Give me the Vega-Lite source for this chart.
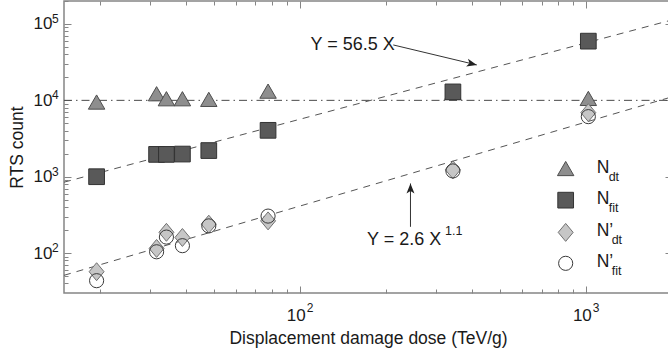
{
  "$schema": "https://vega.github.io/schema/vega-lite/v6.json",
  "width": 608,
  "height": 292,
  "autosize": {"type": "none"},
  "padding": {"left": 64, "top": 1, "right": 0, "bottom": 67},
  "background": "white",
  "config": {
    "font": "Liberation Sans",
    "view": {"stroke": "#858585", "strokeWidth": 1.5},
    "axis": {
      "domain": false,
      "grid": false,
      "tickColor": "#858585",
      "tickWidth": 1,
      "labelFont": "Liberation Sans",
      "labelFontSize": 17,
      "labelColor": "#1a1a1a",
      "labelOverlap": false,
      "labelFlush": false,
      "titleFont": "Liberation Sans",
      "titleFontSize": 17.5,
      "titleFontWeight": "normal",
      "titleColor": "#1a1a1a"
    }
  },
  "datasets": {
    "pts": [
      {"series": "Ndt", "dose": 19.5, "count": 9500},
      {"series": "Ndt", "dose": 31.6, "count": 12200},
      {"series": "Ndt", "dose": 34.2, "count": 10500},
      {"series": "Ndt", "dose": 38.9, "count": 10500},
      {"series": "Ndt", "dose": 48.1, "count": 10300},
      {"series": "Ndt", "dose": 77.5, "count": 13200},
      {"series": "Ndt", "dose": 343, "count": 12700},
      {"series": "Ndt", "dose": 1020, "count": 10600},
      {"series": "Nfit", "dose": 19.5, "count": 1000},
      {"series": "Nfit", "dose": 31.6, "count": 1960},
      {"series": "Nfit", "dose": 34.2, "count": 1960},
      {"series": "Nfit", "dose": 38.9, "count": 1980},
      {"series": "Nfit", "dose": 48.1, "count": 2200},
      {"series": "Nfit", "dose": 77.5, "count": 4050},
      {"series": "Nfit", "dose": 343, "count": 12900},
      {"series": "Nfit", "dose": 1020, "count": 59600},
      {"series": "N'dt", "dose": 19.5, "count": 57},
      {"series": "N'dt", "dose": 31.6, "count": 115},
      {"series": "N'dt", "dose": 34.2, "count": 187},
      {"series": "N'dt", "dose": 38.9, "count": 160},
      {"series": "N'dt", "dose": 48.1, "count": 239},
      {"series": "N'dt", "dose": 77.5, "count": 264},
      {"series": "N'dt", "dose": 343, "count": 1230},
      {"series": "N'dt", "dose": 1020, "count": 6900},
      {"series": "N'fit", "dose": 19.5, "count": 43.5},
      {"series": "N'fit", "dose": 31.6, "count": 104},
      {"series": "N'fit", "dose": 34.2, "count": 162},
      {"series": "N'fit", "dose": 38.9, "count": 125},
      {"series": "N'fit", "dose": 48.1, "count": 227},
      {"series": "N'fit", "dose": 77.5, "count": 305},
      {"series": "N'fit", "dose": 343, "count": 1190},
      {"series": "N'fit", "dose": 1020, "count": 6120}
    ],
    "level": [
      {"dose": 15, "count": 10000},
      {"dose": 2000, "count": 10000}
    ],
    "fitLinear": [
      {"dose": 15, "count": 847.5},
      {"dose": 2000, "count": 113000}
    ],
    "fitPower": [
      {"dose": 15, "count": 51.13},
      {"dose": 2000, "count": 11120}
    ],
    "decadesX": [
      {"dose": 100, "count": 30, "exp": "2"},
      {"dose": 1000, "count": 30, "exp": "3"}
    ],
    "decadesY": [
      {"dose": 15, "count": 100, "exp": "2"},
      {"dose": 15, "count": 1000, "exp": "3"},
      {"dose": 15, "count": 10000, "exp": "4"},
      {"dose": 15, "count": 100000, "exp": "5"}
    ],
    "key": [
      {"series": "Ndt", "main": "N", "sub": "dt", "prime": false, "dose": 850, "count": 1280},
      {"series": "Nfit", "main": "N", "sub": "fit", "prime": false, "dose": 850, "count": 493},
      {"series": "N'dt", "main": "N’", "sub": "dt", "prime": true, "dose": 850, "count": 186.5},
      {"series": "N'fit", "main": "N’", "sub": "fit", "prime": true, "dose": 850, "count": 73.4}
    ],
    "notes": [
      {"label": "Y = 56.5 X", "dose": 109, "count": 52360},
      {"label": "Y = 2.6 X", "dose": 171.9, "count": 147.9}
    ],
    "exponent": [
      {"label": "1.1", "dose": 322, "count": 193.9}
    ],
    "arrowLinear": [
      {"dose": 212.3, "count": 53160, "dose2": 415.7, "count2": 29100}
    ],
    "arrowPower": [
      {"dose": 243.8, "count": 220.7, "dose2": 243.8, "count2": 814.6}
    ]
  },
  "layer": [
    {
      "data": {"name": "level"},
      "mark": {"type": "line", "color": "#4a4a4a", "strokeWidth": 1, "strokeDash": [8, 4, 1.5, 4]},
      "encoding": {
        "x": {
          "field": "dose", "type": "quantitative",
          "scale": {"type": "log", "domain": [15, 2000], "nice": false},
          "axis": {
            "orient": "bottom",
            "title": "Displacement damage dose (TeV/g)",
            "titlePadding": 6,
            "ticks": false,
            "values": [100, 1000],
            "labelExpr": "'10'",
            "labelPadding": 14,
            "labelOffset": -4
          }
        },
        "y": {
          "field": "count", "type": "quantitative",
          "scale": {"type": "log", "domain": [30, 200000], "nice": false},
          "axis": {
            "orient": "left",
            "title": "RTS count",
            "titlePadding": 7,
            "ticks": false,
            "values": [100, 1000, 10000, 100000],
            "labelExpr": "'10'",
            "labelPadding": 12
          }
        }
      }
    },
    {
      "data": {"name": "fitLinear"},
      "mark": {"type": "line", "color": "#555555", "strokeWidth": 1, "strokeDash": [7, 6]},
      "encoding": {
        "x": {
          "field": "dose", "type": "quantitative",
          "axis": {
            "orient": "top", "title": null, "labels": false,
            "values": [20, 30, 40, 50, 60, 70, 80, 90, 100, 200, 300, 400, 500, 600, 700, 800, 900, 1000, 2000],
            "tickSize": {"condition": {"test": "datum.value == 100 || datum.value == 1000", "value": -7}, "value": -4}
          }
        },
        "y": {
          "field": "count", "type": "quantitative",
          "axis": {
            "orient": "right", "title": null, "labels": false,
            "values": [40, 50, 60, 70, 80, 90, 100, 200, 300, 400, 500, 600, 700, 800, 900, 1000, 2000, 3000, 4000, 5000, 6000, 7000, 8000, 9000, 10000, 20000, 30000, 40000, 50000, 60000, 70000, 80000, 90000, 100000, 200000],
            "tickSize": {"condition": {"test": "indexof([100, 1000, 10000, 100000], datum.value) >= 0", "value": -7}, "value": -4}
          }
        }
      }
    },
    {
      "data": {"name": "fitPower"},
      "mark": {"type": "line", "color": "#555555", "strokeWidth": 1, "strokeDash": [7, 6]},
      "encoding": {
        "x": {
          "field": "dose", "type": "quantitative",
          "axis": {
            "orient": "bottom", "title": null, "labels": false,
            "values": [20, 30, 40, 50, 60, 70, 80, 90, 100, 200, 300, 400, 500, 600, 700, 800, 900, 1000, 2000],
            "tickSize": {"condition": {"test": "datum.value == 100 || datum.value == 1000", "value": -7}, "value": -4}
          }
        },
        "y": {
          "field": "count", "type": "quantitative",
          "axis": {
            "orient": "left", "title": null, "labels": false,
            "values": [40, 50, 60, 70, 80, 90, 100, 200, 300, 400, 500, 600, 700, 800, 900, 1000, 2000, 3000, 4000, 5000, 6000, 7000, 8000, 9000, 10000, 20000, 30000, 40000, 50000, 60000, 70000, 80000, 90000, 100000, 200000],
            "tickSize": {"condition": {"test": "indexof([100, 1000, 10000, 100000], datum.value) >= 0", "value": -7}, "value": -4}
          }
        }
      }
    },
    {
      "data": {"name": "decadesX"},
      "mark": {"type": "text", "align": "left", "baseline": "middle", "dx": 7, "dy": 15, "fontSize": 12, "color": "#1a1a1a"},
      "encoding": {
        "x": {"field": "dose", "type": "quantitative", "axis": null},
        "y": {"field": "count", "type": "quantitative", "axis": null},
        "text": {"field": "exp"}
      }
    },
    {
      "data": {"name": "decadesY"},
      "mark": {"type": "text", "align": "left", "baseline": "middle", "dx": -12, "dy": -5, "fontSize": 12, "color": "#1a1a1a"},
      "encoding": {
        "x": {"field": "dose", "type": "quantitative", "axis": null},
        "y": {"field": "count", "type": "quantitative", "axis": null},
        "text": {"field": "exp"}
      }
    },
    {
      "data": {"name": "pts"},
      "mark": {"type": "point", "filled": true, "opacity": 1, "strokeWidth": 1},
      "encoding": {
        "x": {"field": "dose", "type": "quantitative", "axis": null},
        "y": {"field": "count", "type": "quantitative", "axis": null},
        "shape": {
          "field": "series", "type": "nominal", "legend": null,
          "scale": {"domain": ["Ndt", "Nfit", "N'dt", "N'fit"], "range": ["triangle-up", "square", "M0,-1.2L1,0L0,1.2L-1,0Z", "circle"]}
        },
        "fill": {
          "field": "series", "type": "nominal", "legend": null,
          "scale": {"domain": ["Ndt", "Nfit", "N'dt", "N'fit"], "range": ["#8e8e8e", "#595959", "#c6c6c6", "transparent"]}
        },
        "stroke": {
          "field": "series", "type": "nominal", "legend": null,
          "scale": {"domain": ["Ndt", "Nfit", "N'dt", "N'fit"], "range": ["#4d4d4d", "#333333", "#707070", "#3a3a3a"]}
        },
        "size": {
          "field": "series", "type": "ordinal", "legend": null,
          "scale": {"domain": ["Ndt", "Nfit", "N'dt", "N'fit"], "range": [270, 200, 225, 230]}
        }
      }
    },
    {
      "data": {"name": "key"},
      "mark": {"type": "point", "filled": true, "opacity": 1, "strokeWidth": 1},
      "encoding": {
        "x": {"field": "dose", "type": "quantitative", "axis": null},
        "y": {"field": "count", "type": "quantitative", "axis": null},
        "shape": {"field": "series", "type": "nominal", "legend": null},
        "fill": {"field": "series", "type": "nominal", "legend": null},
        "stroke": {"field": "series", "type": "nominal", "legend": null},
        "size": {"field": "series", "type": "ordinal", "legend": null}
      }
    },
    {
      "data": {"name": "key"},
      "mark": {"type": "text", "align": "left", "baseline": "middle", "dx": 31, "dy": -1, "fontSize": 17.5, "color": "#1a1a1a"},
      "encoding": {
        "x": {"field": "dose", "type": "quantitative", "axis": null},
        "y": {"field": "count", "type": "quantitative", "axis": null},
        "text": {"field": "main"}
      }
    },
    {
      "data": {"name": "key"},
      "transform": [{"filter": "!datum.prime"}],
      "mark": {"type": "text", "align": "left", "baseline": "middle", "dx": 43, "dy": 8, "fontSize": 12.5, "color": "#1a1a1a"},
      "encoding": {
        "x": {"field": "dose", "type": "quantitative", "axis": null},
        "y": {"field": "count", "type": "quantitative", "axis": null},
        "text": {"field": "sub"}
      }
    },
    {
      "data": {"name": "key"},
      "transform": [{"filter": "datum.prime"}],
      "mark": {"type": "text", "align": "left", "baseline": "middle", "dx": 46, "dy": 8, "fontSize": 12.5, "color": "#1a1a1a"},
      "encoding": {
        "x": {"field": "dose", "type": "quantitative", "axis": null},
        "y": {"field": "count", "type": "quantitative", "axis": null},
        "text": {"field": "sub"}
      }
    },
    {
      "data": {"name": "notes"},
      "mark": {"type": "text", "align": "left", "baseline": "middle", "fontSize": 18, "color": "#1a1a1a"},
      "encoding": {
        "x": {"field": "dose", "type": "quantitative", "axis": null},
        "y": {"field": "count", "type": "quantitative", "axis": null},
        "text": {"field": "label"}
      }
    },
    {
      "data": {"name": "exponent"},
      "mark": {"type": "text", "align": "left", "baseline": "middle", "fontSize": 12.5, "color": "#1a1a1a"},
      "encoding": {
        "x": {"field": "dose", "type": "quantitative", "axis": null},
        "y": {"field": "count", "type": "quantitative", "axis": null},
        "text": {"field": "label"}
      }
    },
    {
      "data": {"name": "arrowLinear"},
      "mark": {"type": "rule", "color": "#333333", "strokeWidth": 1},
      "encoding": {
        "x": {"field": "dose", "type": "quantitative", "axis": null},
        "y": {"field": "count", "type": "quantitative", "axis": null},
        "x2": {"field": "dose2"},
        "y2": {"field": "count2"}
      }
    },
    {
      "data": {"name": "arrowLinear"},
      "mark": {"type": "point", "filled": true, "opacity": 1, "color": "#222222", "shape": "M0,0L-0.4,1L0,0.75L0.4,1Z", "size": 400, "angle": 103.5},
      "encoding": {
        "x": {"field": "dose2", "type": "quantitative", "axis": null},
        "y": {"field": "count2", "type": "quantitative", "axis": null}
      }
    },
    {
      "data": {"name": "arrowPower"},
      "mark": {"type": "rule", "color": "#333333", "strokeWidth": 1},
      "encoding": {
        "x": {"field": "dose", "type": "quantitative", "axis": null},
        "y": {"field": "count", "type": "quantitative", "axis": null},
        "x2": {"field": "dose2"},
        "y2": {"field": "count2"}
      }
    },
    {
      "data": {"name": "arrowPower"},
      "mark": {"type": "point", "filled": true, "opacity": 1, "color": "#222222", "shape": "M0,0L-0.4,1L0,0.75L0.4,1Z", "size": 400, "angle": 0},
      "encoding": {
        "x": {"field": "dose2", "type": "quantitative", "axis": null},
        "y": {"field": "count2", "type": "quantitative", "axis": null}
      }
    }
  ],
  "resolve": {"axis": {"x": "independent", "y": "independent"}}
}
